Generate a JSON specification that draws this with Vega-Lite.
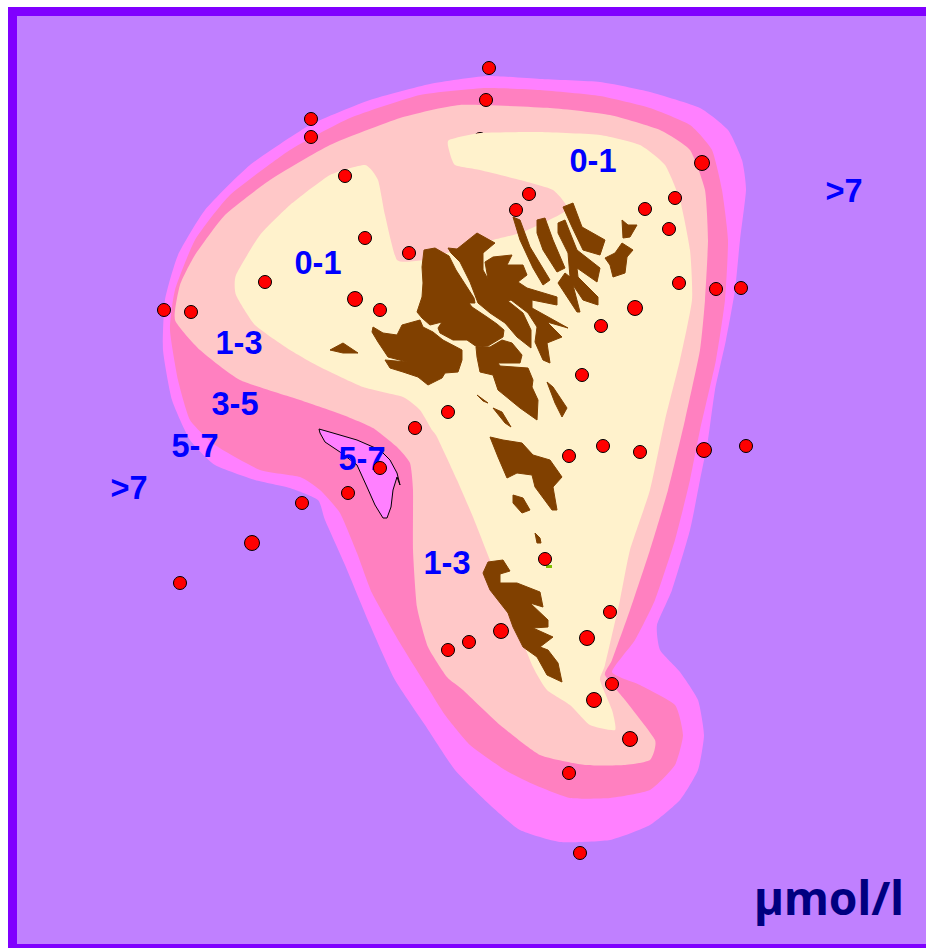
{"$schema":"https://vega.github.io/schema/vega-lite/v6.json","width":926,"height":948,"padding":0,"autosize":{"type":"fit","contains":"padding"},"background":"white","view":{"stroke":null},
"datasets":{
"frame":[
{"zone":"frame","x":8,"y":7},{"zone":"frame","x":926,"y":7},{"zone":"frame","x":926,"y":948},{"zone":"frame","x":8,"y":948},
{"zone":">7","x":17,"y":16},{"zone":">7","x":926,"y":16},{"zone":">7","x":926,"y":944},{"zone":">7","x":17,"y":944}],
"zones":[
{"zone":"5-7","x":486,"y":76},{"zone":"5-7","x":540,"y":79},{"zone":"5-7","x":600,"y":82},{"zone":"5-7","x":650,"y":92},{"zone":"5-7","x":700,"y":108},{"zone":"5-7","x":728,"y":130},{"zone":"5-7","x":742,"y":160},{"zone":"5-7","x":746,"y":190},{"zone":"5-7","x":740,"y":240},{"zone":"5-7","x":735,"y":290},{"zone":"5-7","x":726,"y":340},{"zone":"5-7","x":715,"y":390},{"zone":"5-7","x":708,"y":440},{"zone":"5-7","x":700,"y":480},{"zone":"5-7","x":690,"y":530},{"zone":"5-7","x":672,"y":590},{"zone":"5-7","x":657,"y":625},{"zone":"5-7","x":660,"y":650},{"zone":"5-7","x":680,"y":672},{"zone":"5-7","x":698,"y":700},{"zone":"5-7","x":704,"y":735},{"zone":"5-7","x":698,"y":770},{"zone":"5-7","x":680,"y":800},{"zone":"5-7","x":650,"y":825},{"zone":"5-7","x":610,"y":840},{"zone":"5-7","x":560,"y":842},{"zone":"5-7","x":520,"y":830},{"zone":"5-7","x":490,"y":805},{"zone":"5-7","x":455,"y":770},{"zone":"5-7","x":425,"y":725},{"zone":"5-7","x":395,"y":680},{"zone":"5-7","x":370,"y":625},{"zone":"5-7","x":345,"y":565},{"zone":"5-7","x":325,"y":520},{"zone":"5-7","x":318,"y":500},{"zone":"5-7","x":290,"y":488},{"zone":"5-7","x":255,"y":480},{"zone":"5-7","x":215,"y":465},{"zone":"5-7","x":190,"y":440},{"zone":"5-7","x":172,"y":400},{"zone":"5-7","x":163,"y":350},{"zone":"5-7","x":165,"y":300},{"zone":"5-7","x":178,"y":255},{"zone":"5-7","x":205,"y":210},{"zone":"5-7","x":250,"y":165},{"zone":"5-7","x":310,"y":125},{"zone":"5-7","x":370,"y":100},{"zone":"5-7","x":430,"y":84},
{"zone":"3-5","x":486,"y":88},{"zone":"3-5","x":540,"y":90},{"zone":"3-5","x":600,"y":96},{"zone":"3-5","x":650,"y":108},{"zone":"3-5","x":690,"y":125},{"zone":"3-5","x":712,"y":150},{"zone":"3-5","x":722,"y":190},{"zone":"3-5","x":728,"y":240},{"zone":"3-5","x":725,"y":300},{"zone":"3-5","x":716,"y":360},{"zone":"3-5","x":700,"y":430},{"zone":"3-5","x":690,"y":480},{"zone":"3-5","x":675,"y":540},{"zone":"3-5","x":655,"y":600},{"zone":"3-5","x":635,"y":640},{"zone":"3-5","x":612,"y":672},{"zone":"3-5","x":640,"y":685},{"zone":"3-5","x":675,"y":705},{"zone":"3-5","x":683,"y":735},{"zone":"3-5","x":675,"y":765},{"zone":"3-5","x":650,"y":790},{"zone":"3-5","x":610,"y":798},{"zone":"3-5","x":570,"y":798},{"zone":"3-5","x":535,"y":785},{"zone":"3-5","x":505,"y":770},{"zone":"3-5","x":470,"y":745},{"zone":"3-5","x":445,"y":715},{"zone":"3-5","x":428,"y":688},{"zone":"3-5","x":400,"y":643},{"zone":"3-5","x":372,"y":593},{"zone":"3-5","x":357,"y":553},{"zone":"3-5","x":340,"y":513},{"zone":"3-5","x":320,"y":490},{"zone":"3-5","x":300,"y":477},{"zone":"3-5","x":260,"y":470},{"zone":"3-5","x":215,"y":445},{"zone":"3-5","x":190,"y":420},{"zone":"3-5","x":178,"y":380},{"zone":"3-5","x":170,"y":330},{"zone":"3-5","x":175,"y":290},{"zone":"3-5","x":195,"y":240},{"zone":"3-5","x":230,"y":195},{"zone":"3-5","x":290,"y":150},{"zone":"3-5","x":350,"y":118},{"zone":"3-5","x":420,"y":95},
{"zone":"1-3","x":460,"y":105},{"zone":"1-3","x":550,"y":108},{"zone":"1-3","x":610,"y":115},{"zone":"1-3","x":660,"y":130},{"zone":"1-3","x":690,"y":150},{"zone":"1-3","x":705,"y":190},{"zone":"1-3","x":708,"y":240},{"zone":"1-3","x":705,"y":300},{"zone":"1-3","x":700,"y":350},{"zone":"1-3","x":685,"y":420},{"zone":"1-3","x":668,"y":490},{"zone":"1-3","x":650,"y":550},{"zone":"1-3","x":630,"y":610},{"zone":"1-3","x":612,"y":660},{"zone":"1-3","x":605,"y":675},{"zone":"1-3","x":625,"y":700},{"zone":"1-3","x":655,"y":740},{"zone":"1-3","x":650,"y":760},{"zone":"1-3","x":625,"y":765},{"zone":"1-3","x":585,"y":765},{"zone":"1-3","x":540,"y":755},{"zone":"1-3","x":500,"y":725},{"zone":"1-3","x":463,"y":690},{"zone":"1-3","x":447,"y":677},{"zone":"1-3","x":428,"y":647},{"zone":"1-3","x":417,"y":607},{"zone":"1-3","x":413,"y":550},{"zone":"1-3","x":413,"y":490},{"zone":"1-3","x":410,"y":463},{"zone":"1-3","x":397,"y":447},{"zone":"1-3","x":373,"y":428},{"zone":"1-3","x":343,"y":415},{"zone":"1-3","x":300,"y":400},{"zone":"1-3","x":240,"y":380},{"zone":"1-3","x":200,"y":350},{"zone":"1-3","x":175,"y":320},{"zone":"1-3","x":180,"y":285},{"zone":"1-3","x":195,"y":255},{"zone":"1-3","x":225,"y":215},{"zone":"1-3","x":270,"y":180},{"zone":"1-3","x":330,"y":145},{"zone":"1-3","x":400,"y":118}
],
"cream":[{"x":449,"y":140},{"x":480,"y":133},{"x":540,"y":132},{"x":600,"y":135},{"x":640,"y":145},{"x":665,"y":165},{"x":680,"y":200},{"x":690,"y":250},{"x":692,"y":300},{"x":680,"y":360},{"x":665,"y":420},{"x":650,"y":490},{"x":630,"y":550},{"x":620,"y":600},{"x":605,"y":665},{"x":600,"y":680},{"x":612,"y":710},{"x":615,"y":730},{"x":590,"y":725},{"x":570,"y":705},{"x":547,"y":690},{"x":533,"y":667},{"x":513,"y":617},{"x":490,"y":560},{"x":473,"y":517},{"x":457,"y":480},{"x":437,"y":437},{"x":432,"y":430},{"x":420,"y":410},{"x":403,"y":397},{"x":363,"y":387},{"x":320,"y":367},{"x":290,"y":350},{"x":255,"y":325},{"x":236,"y":295},{"x":236,"y":275},{"x":260,"y":235},{"x":290,"y":205},{"x":330,"y":175},{"x":365,"y":165},{"x":378,"y":180},{"x":385,"y":215},{"x":397,"y":260},{"x":423,"y":260},{"x":447,"y":253},{"x":493,"y":240},{"x":523,"y":232},{"x":567,"y":210},{"x":553,"y":190},{"x":520,"y":180},{"x":480,"y":170},{"x":455,"y":165},{"x":449,"y":150}],
"lake":[{"x":319,"y":429},{"x":333,"y":433},{"x":357,"y":440},{"x":380,"y":450},{"x":390,"y":460},{"x":397,"y":473},{"x":400,"y":485},{"x":397,"y":477},{"x":393,"y":490},{"x":391,"y":507},{"x":387,"y":518},{"x":383,"y":518},{"x":375,"y":505},{"x":367,"y":487},{"x":357,"y":465},{"x":340,"y":452},{"x":325,"y":442},{"x":320,"y":433}],
"land":[
{"i":"Kalsoy","x":513,"y":217},{"i":"Kalsoy","x":520,"y":220},{"i":"Kalsoy","x":530,"y":247},{"i":"Kalsoy","x":550,"y":280},{"i":"Kalsoy","x":543,"y":285},{"i":"Kalsoy","x":533,"y":268},{"i":"Kalsoy","x":520,"y":240},
{"i":"Kunoy","x":537,"y":220},{"i":"Kunoy","x":545,"y":218},{"i":"Kunoy","x":553,"y":240},{"i":"Kunoy","x":565,"y":268},{"i":"Kunoy","x":557,"y":272},{"i":"Kunoy","x":543,"y":250},{"i":"Kunoy","x":537,"y":233},
{"i":"Bordoy","x":558,"y":223},{"i":"Bordoy","x":565,"y":220},{"i":"Bordoy","x":577,"y":250},{"i":"Bordoy","x":600,"y":268},{"i":"Bordoy","x":597,"y":282},{"i":"Bordoy","x":577,"y":268},{"i":"Bordoy","x":578,"y":277},{"i":"Bordoy","x":598,"y":297},{"i":"Bordoy","x":598,"y":305},{"i":"Bordoy","x":583,"y":300},{"i":"Bordoy","x":573,"y":285},{"i":"Bordoy","x":580,"y":312},{"i":"Bordoy","x":577,"y":312},{"i":"Bordoy","x":558,"y":283},{"i":"Bordoy","x":565,"y":273},{"i":"Bordoy","x":570,"y":277},{"i":"Bordoy","x":568,"y":253},{"i":"Bordoy","x":558,"y":233},
{"i":"Vidoy","x":563,"y":207},{"i":"Vidoy","x":573,"y":203},{"i":"Vidoy","x":582,"y":227},{"i":"Vidoy","x":605,"y":240},{"i":"Vidoy","x":600,"y":255},{"i":"Vidoy","x":583,"y":250},{"i":"Vidoy","x":572,"y":227},
{"i":"Svinoy","x":622,"y":220},{"i":"Svinoy","x":628,"y":225},{"i":"Svinoy","x":637,"y":225},{"i":"Svinoy","x":630,"y":237},{"i":"Svinoy","x":623,"y":238},
{"i":"Fugloy","x":605,"y":258},{"i":"Fugloy","x":615,"y":253},{"i":"Fugloy","x":622,"y":243},{"i":"Fugloy","x":633,"y":250},{"i":"Fugloy","x":627,"y":257},{"i":"Fugloy","x":625,"y":273},{"i":"Fugloy","x":613,"y":277},{"i":"Fugloy","x":610,"y":265},
{"i":"Nolsoy","x":547,"y":382},{"i":"Nolsoy","x":553,"y":387},{"i":"Nolsoy","x":567,"y":408},{"i":"Nolsoy","x":562,"y":417},{"i":"Nolsoy","x":555,"y":403},
{"i":"Koltur","x":330,"y":350},{"i":"Koltur","x":343,"y":343},{"i":"Koltur","x":358,"y":353},{"i":"Koltur","x":343,"y":353},
{"i":"Small","x":477,"y":395},{"i":"Small","x":488,"y":403},{"i":"Small","x":483,"y":401},
{"i":"Hestur","x":493,"y":408},{"i":"Hestur","x":502,"y":412},{"i":"Hestur","x":511,"y":427},{"i":"Hestur","x":505,"y":423},
{"i":"Streymoy","x":424,"y":250},{"i":"Streymoy","x":435,"y":248},{"i":"Streymoy","x":449,"y":256},{"i":"Streymoy","x":456,"y":270},{"i":"Streymoy","x":465,"y":284},{"i":"Streymoy","x":474,"y":298},{"i":"Streymoy","x":475,"y":303},{"i":"Streymoy","x":469,"y":303},{"i":"Streymoy","x":472,"y":307},{"i":"Streymoy","x":487,"y":317},{"i":"Streymoy","x":497,"y":324},{"i":"Streymoy","x":504,"y":330},{"i":"Streymoy","x":503,"y":337},{"i":"Streymoy","x":488,"y":346},{"i":"Streymoy","x":477,"y":347},{"i":"Streymoy","x":467,"y":340},{"i":"Streymoy","x":453,"y":340},{"i":"Streymoy","x":440,"y":333},{"i":"Streymoy","x":438,"y":328},{"i":"Streymoy","x":442,"y":322},{"i":"Streymoy","x":430,"y":325},{"i":"Streymoy","x":422,"y":318},{"i":"Streymoy","x":417,"y":312},{"i":"Streymoy","x":422,"y":297},{"i":"Streymoy","x":423,"y":283},{"i":"Streymoy","x":422,"y":267},
{"i":"Vagar","x":373,"y":327},{"i":"Vagar","x":383,"y":333},{"i":"Vagar","x":397,"y":335},{"i":"Vagar","x":402,"y":325},{"i":"Vagar","x":420,"y":320},{"i":"Vagar","x":423,"y":327},{"i":"Vagar","x":433,"y":332},{"i":"Vagar","x":443,"y":340},{"i":"Vagar","x":462,"y":350},{"i":"Vagar","x":462,"y":360},{"i":"Vagar","x":458,"y":372},{"i":"Vagar","x":445,"y":373},{"i":"Vagar","x":442,"y":378},{"i":"Vagar","x":428,"y":385},{"i":"Vagar","x":418,"y":377},{"i":"Vagar","x":403,"y":372},{"i":"Vagar","x":390,"y":368},{"i":"Vagar","x":385,"y":360},{"i":"Vagar","x":407,"y":362},{"i":"Vagar","x":388,"y":357},{"i":"Vagar","x":378,"y":342},{"i":"Vagar","x":372,"y":332},
{"i":"South","x":476,"y":347},{"i":"South","x":490,"y":347},{"i":"South","x":502,"y":340},{"i":"South","x":512,"y":343},{"i":"South","x":522,"y":355},{"i":"South","x":520,"y":363},{"i":"South","x":498,"y":363},{"i":"South","x":500,"y":366},{"i":"South","x":528,"y":368},{"i":"South","x":533,"y":380},{"i":"South","x":532,"y":387},{"i":"South","x":538,"y":400},{"i":"South","x":537,"y":420},{"i":"South","x":520,"y":408},{"i":"South","x":498,"y":390},{"i":"South","x":493,"y":375},{"i":"South","x":480,"y":372},{"i":"South","x":477,"y":357},
{"i":"Eysturoy","x":448,"y":248},{"i":"Eysturoy","x":457,"y":249},{"i":"Eysturoy","x":477,"y":233},{"i":"Eysturoy","x":495,"y":243},{"i":"Eysturoy","x":483,"y":253},{"i":"Eysturoy","x":483,"y":270},{"i":"Eysturoy","x":488,"y":279},{"i":"Eysturoy","x":485,"y":262},{"i":"Eysturoy","x":493,"y":257},{"i":"Eysturoy","x":512,"y":255},{"i":"Eysturoy","x":507,"y":265},{"i":"Eysturoy","x":523,"y":265},{"i":"Eysturoy","x":527,"y":275},{"i":"Eysturoy","x":518,"y":282},{"i":"Eysturoy","x":527,"y":288},{"i":"Eysturoy","x":557,"y":297},{"i":"Eysturoy","x":557,"y":305},{"i":"Eysturoy","x":532,"y":300},{"i":"Eysturoy","x":532,"y":308},{"i":"Eysturoy","x":568,"y":328},{"i":"Eysturoy","x":547,"y":322},{"i":"Eysturoy","x":562,"y":337},{"i":"Eysturoy","x":547,"y":343},{"i":"Eysturoy","x":550,"y":363},{"i":"Eysturoy","x":543,"y":360},{"i":"Eysturoy","x":535,"y":342},{"i":"Eysturoy","x":537,"y":327},{"i":"Eysturoy","x":528,"y":313},{"i":"Eysturoy","x":511,"y":300},{"i":"Eysturoy","x":508,"y":301},{"i":"Eysturoy","x":523,"y":313},{"i":"Eysturoy","x":531,"y":330},{"i":"Eysturoy","x":531,"y":348},{"i":"Eysturoy","x":517,"y":337},{"i":"Eysturoy","x":505,"y":323},{"i":"Eysturoy","x":490,"y":313},{"i":"Eysturoy","x":478,"y":303},{"i":"Eysturoy","x":470,"y":282},{"i":"Eysturoy","x":460,"y":262},{"i":"Eysturoy","x":451,"y":253},
{"i":"Sandoy","x":490,"y":437},{"i":"Sandoy","x":503,"y":440},{"i":"Sandoy","x":522,"y":443},{"i":"Sandoy","x":533,"y":455},{"i":"Sandoy","x":550,"y":460},{"i":"Sandoy","x":562,"y":477},{"i":"Sandoy","x":553,"y":487},{"i":"Sandoy","x":557,"y":510},{"i":"Sandoy","x":552,"y":510},{"i":"Sandoy","x":535,"y":487},{"i":"Sandoy","x":532,"y":475},{"i":"Sandoy","x":517,"y":473},{"i":"Sandoy","x":507,"y":478},{"i":"Sandoy","x":498,"y":457},
{"i":"Skuvoy","x":513,"y":495},{"i":"Skuvoy","x":523,"y":498},{"i":"Skuvoy","x":530,"y":510},{"i":"Skuvoy","x":522,"y":513},{"i":"Skuvoy","x":513,"y":503},
{"i":"Dimun","x":535,"y":533},{"i":"Dimun","x":540,"y":538},{"i":"Dimun","x":541,"y":543},{"i":"Dimun","x":537,"y":543},
{"i":"Suduroy","x":483,"y":573},{"i":"Suduroy","x":488,"y":562},{"i":"Suduroy","x":503,"y":560},{"i":"Suduroy","x":510,"y":571},{"i":"Suduroy","x":500,"y":574},{"i":"Suduroy","x":500,"y":583},{"i":"Suduroy","x":517,"y":583},{"i":"Suduroy","x":540,"y":592},{"i":"Suduroy","x":543,"y":607},{"i":"Suduroy","x":530,"y":603},{"i":"Suduroy","x":548,"y":620},{"i":"Suduroy","x":548,"y":627},{"i":"Suduroy","x":533,"y":628},{"i":"Suduroy","x":553,"y":637},{"i":"Suduroy","x":540,"y":647},{"i":"Suduroy","x":548,"y":650},{"i":"Suduroy","x":558,"y":663},{"i":"Suduroy","x":562,"y":682},{"i":"Suduroy","x":547,"y":675},{"i":"Suduroy","x":537,"y":657},{"i":"Suduroy","x":523,"y":647},{"i":"Suduroy","x":513,"y":627},{"i":"Suduroy","x":508,"y":613},{"i":"Suduroy","x":490,"y":590},{"i":"Suduroy","x":485,"y":578}
],
"green":[{"x":546,"y":565},{"x":552,"y":565},{"x":552,"y":568},{"x":546,"y":568}],
"hidden":[{"x":480,"y":139}],
"sites":[{"x":489,"y":68},{"x":486,"y":100},{"x":311,"y":119},{"x":311,"y":137},{"x":345,"y":176},{"x":529,"y":194},{"x":516,"y":210},{"x":675,"y":198},{"x":645,"y":209},{"x":669,"y":229},{"x":365,"y":238},{"x":409,"y":253},{"x":265,"y":282},{"x":380,"y":310},{"x":164,"y":310},{"x":191,"y":312},{"x":679,"y":283},{"x":716,"y":289},{"x":741,"y":288},{"x":601,"y":326},{"x":582,"y":375},{"x":448,"y":412},{"x":415,"y":428},{"x":569,"y":456},{"x":603,"y":446},{"x":640,"y":452},{"x":746,"y":446},{"x":380,"y":468},{"x":348,"y":493},{"x":302,"y":503},{"x":180,"y":583},{"x":545,"y":559},{"x":610,"y":612},{"x":469,"y":642},{"x":448,"y":650},{"x":612,"y":684},{"x":569,"y":773},{"x":580,"y":853}],
"bigsites":[{"x":702,"y":163},{"x":355,"y":299},{"x":635,"y":308},{"x":704,"y":450},{"x":252,"y":543},{"x":587,"y":638},{"x":501,"y":631},{"x":594,"y":700},{"x":630,"y":739}],
"labels":[{"x":593,"y":160,"t":"0-1"},{"x":318,"y":262,"t":"0-1"},{"x":844,"y":190,"t":">7"},{"x":129,"y":487,"t":">7"},{"x":239,"y":342,"t":"1-3"},{"x":447,"y":562,"t":"1-3"},{"x":235,"y":403,"t":"3-5"},{"x":195,"y":445,"t":"5-7"},{"x":362,"y":458,"t":"5-7"}],
"unit":[{"x":829,"y":901,"t":"µmol/l"}]
},
"encoding":{"x":{"field":"x","type":"quantitative","axis":null,"scale":{"domain":[0,926],"nice":false,"zero":false}},"y":{"field":"y","type":"quantitative","axis":null,"scale":{"domain":[948,0],"nice":false,"zero":false}}},
"layer":[
{"data":{"name":"frame"},"mark":{"type":"line","interpolate":"linear-closed","strokeWidth":0},"encoding":{"order":{"value":null},"detail":{"field":"zone"},"fill":{"field":"zone","type":"nominal","legend":null,"sort":null,"scale":{"domain":["frame",">7","5-7","3-5","1-3"],"range":["#8000ff","#c080ff","#ff80ff","#ff80c0","#ffc8c8"]}}}},
{"data":{"name":"zones"},"mark":{"type":"line","interpolate":"cardinal-closed","tension":0.5,"strokeWidth":0},"encoding":{"order":{"value":null},"detail":{"field":"zone"},"fill":{"field":"zone","type":"nominal","legend":null,"sort":null,"scale":{"domain":["frame",">7","5-7","3-5","1-3"],"range":["#8000ff","#c080ff","#ff80ff","#ff80c0","#ffc8c8"]}}}},
{"data":{"name":"hidden"},"mark":{"type":"point","filled":true,"fill":"#ff0000","stroke":"black","strokeWidth":1,"size":170,"opacity":1,"shape":"circle"}},
{"data":{"name":"cream"},"mark":{"type":"line","interpolate":"cardinal-closed","tension":0.5,"fill":"#fff2cc","strokeWidth":0},"encoding":{"order":{"value":null}}},
{"data":{"name":"lake"},"mark":{"type":"line","interpolate":"linear-closed","fill":"#ff80ff","stroke":"black","strokeWidth":1},"encoding":{"order":{"value":null}}},
{"data":{"name":"land"},"mark":{"type":"line","interpolate":"linear-closed","fill":"#804000","stroke":"#804000","strokeWidth":1},"encoding":{"order":{"value":null},"detail":{"field":"i"}}},
{"data":{"name":"green"},"mark":{"type":"line","interpolate":"linear-closed","fill":"#80c000","strokeWidth":0},"encoding":{"order":{"value":null}}},
{"data":{"name":"labels"},"mark":{"type":"text","font":"Liberation Sans","fontWeight":"bold","fontSize":32.5,"dy":1.5,"color":"#0000ff","align":"center","baseline":"middle"},"encoding":{"text":{"field":"t"}}},
{"data":{"name":"sites"},"mark":{"type":"point","filled":true,"fill":"#ff0000","stroke":"black","strokeWidth":1,"size":170,"opacity":1,"shape":"circle"}},
{"data":{"name":"bigsites"},"mark":{"type":"point","filled":true,"fill":"#ff0000","stroke":"black","strokeWidth":1,"size":225,"opacity":1,"shape":"circle"}},
{"data":{"name":"unit"},"mark":{"type":"text","font":"Noto Sans","fontWeight":"bold","fontSize":46,"color":"#000080","align":"center","baseline":"middle"},"encoding":{"text":{"field":"t"}}}
]}
